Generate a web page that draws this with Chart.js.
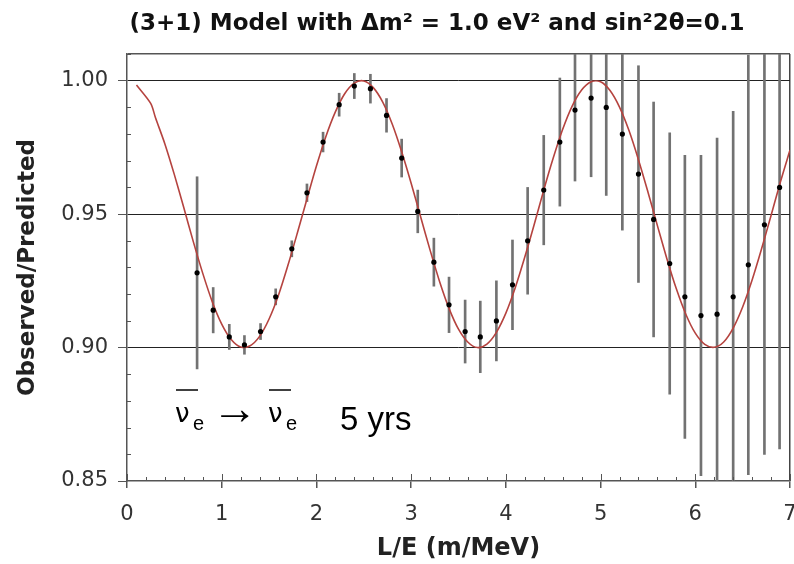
<!DOCTYPE html>
<html>
<head>
<meta charset="utf-8">
<script src="https://cdn.jsdelivr.net/npm/chart.js@4.4.1/dist/chart.umd.min.js"></script>
<style>
  html, body { margin: 0; padding: 0; background: #fff; }
</style>
</head>
<body>
<canvas id="myChart" width="794" height="564"></canvas>
<script>
// measured points (L/E in m/MeV), ratio and half error bar
var lE = [0.74, 0.91, 1.08, 1.24, 1.41, 1.57, 1.74, 1.90, 2.07, 2.24,
  2.40, 2.57, 2.74, 2.90, 3.07, 3.24, 3.40, 3.57, 3.73, 3.90,
  4.07, 4.23, 4.40, 4.57, 4.73, 4.90, 5.06, 5.23, 5.40, 5.56,
  5.73, 5.89, 6.06, 6.23, 6.40, 6.56, 6.73, 6.89];
var ratio = [0.928, 0.914, 0.904, 0.901, 0.906, 0.919, 0.937, 0.958, 0.977, 0.991,
  0.998, 0.997, 0.987, 0.971, 0.951, 0.932, 0.916, 0.906, 0.904, 0.910,
  0.9235, 0.940, 0.959, 0.977, 0.989, 0.9935, 0.990, 0.980, 0.965, 0.948,
  0.9315, 0.919, 0.912, 0.9125, 0.919, 0.931, 0.946, 0.960];
var err = [0.036, 0.0085, 0.0047, 0.0035, 0.003, 0.003, 0.003, 0.0033, 0.0037, 0.0043,
  0.0047, 0.0054, 0.0063, 0.0071, 0.008, 0.009, 0.0104, 0.0118, 0.0134, 0.015,
  0.0168, 0.020, 0.0205, 0.024, 0.0266, 0.0295, 0.033, 0.036, 0.0406, 0.044,
  0.049, 0.053, 0.060, 0.066, 0.0695, 0.0786, 0.086, 0.098];

// model curve
var curveX = [0.1, 0.25, 0.3, 0.4, 0.5, 0.6, 0.7, 0.8, 0.9, 1.0,
  1.1, 1.2, 1.3, 1.4, 1.5, 1.6, 1.7, 1.8, 1.9, 2.0,
  2.1, 2.2, 2.3, 2.4, 2.5, 2.6, 2.7, 2.8, 2.9, 3.0,
  3.1, 3.2, 3.3, 3.4, 3.5, 3.6, 3.7, 3.8, 3.9, 4.0,
  4.1, 4.2, 4.3, 4.4, 4.5, 4.6, 4.7, 4.8, 4.9, 5.0,
  5.1, 5.2, 5.3, 5.4, 5.5, 5.6, 5.7, 5.8, 5.9, 6.0,
  6.1, 6.2, 6.3, 6.4, 6.5, 6.6, 6.7, 6.8, 6.9, 7.0];
var curveY = [0.9984, 0.9915, 0.9862, 0.9763, 0.9648, 0.9524, 0.9397, 0.9278, 0.9172, 0.9088,
  0.9030, 0.9002, 0.9007, 0.9042, 0.9107, 0.9197, 0.9309, 0.9431, 0.9557, 0.9680,
  0.9791, 0.9883, 0.9952, 0.9991, 0.9999, 0.9974, 0.9920, 0.9838, 0.9734, 0.9616,
  0.9490, 0.9365, 0.9248, 0.9147, 0.9069, 0.9020, 0.9000, 0.9013, 0.9057, 0.9129,
  0.9225, 0.9339, 0.9462, 0.9590, 0.9710, 0.9818, 0.9905, 0.9965, 0.9996, 0.9996,
  0.9963, 0.9901, 0.9813, 0.9704, 0.9583, 0.9457, 0.9333, 0.9220, 0.9125, 0.9054,
  0.9012, 0.9001, 0.9021, 0.9073, 0.9152, 0.9253, 0.9370, 0.9495, 0.9622, 0.9740];

var yLines = [0.90, 0.95, 1.00, 1.01];
var titleText = "(3+1) Model with \u0394m\u00b2 = 1.0 eV\u00b2 and sin\u00b22\u03b8=0.1";

function near(a, b) { return Math.abs(a - b) < 1e-6; }
function isWhole(v) { return near(v, Math.round(v)); }
function isFive(v) { return near(v * 20, Math.round(v * 20)); }

var dots = lE.map(function (x, i) { return { x: x, y: ratio[i] }; });
var bars = lE.map(function (x, i) { return { x: x, y: [ratio[i] - err[i], ratio[i] + err[i]] }; });
var curve = curveX.map(function (x, i) { return { x: x, y: curveY[i] }; });

var extras = {
  id: "extras",
  afterDraw: function (chart) {
    var ctx = chart.ctx;
    var xs = chart.scales.x, ys = chart.scales.y;
    var a = chart.chartArea;
    ctx.save();
    // inner minor ticks
    ctx.strokeStyle = "#555";
    ctx.lineWidth = 1;
    xs.ticks.forEach(function (t) {
      var px = Math.round(xs.getPixelForValue(t.value)) + 0.5;
      var len = isWhole(t.value) ? 7 : 4;
      ctx.beginPath();
      ctx.moveTo(px, a.bottom);
      ctx.lineTo(px, a.bottom - len);
      ctx.stroke();
    });
    ys.ticks.forEach(function (t) {
      var py = Math.round(ys.getPixelForValue(t.value)) + 0.5;
      var len = isFive(t.value) ? 0 : 4;
      ctx.beginPath();
      ctx.moveTo(a.left, py);
      ctx.lineTo(a.left + len, py);
      ctx.stroke();
    });

    // title
    ctx.fillStyle = "#111";
    ctx.font = "bold 23px 'DejaVu Sans'";
    ctx.textAlign = "center";
    ctx.textBaseline = "alphabetic";
    ctx.fillText(titleText, 437, 30);

    // nu_e bar -> nu_e bar   5 yrs
    ctx.textAlign = "left";
    ctx.fillStyle = "#000";
    ctx.strokeStyle = "#000";
    ctx.lineWidth = 1.5;
    [175, 268].forEach(function (x0) {
      ctx.font = "26px 'DejaVu Sans'";
      ctx.fillText("\u03bd", x0, 422);
      ctx.font = "20px 'Liberation Sans'";
      ctx.fillText("e", x0 + 18, 430);
      ctx.beginPath();
      ctx.moveTo(x0 + 1, 390);
      ctx.lineTo(x0 + 23, 390);
      ctx.stroke();
    });
    ctx.font = "46px 'Liberation Serif'";
    ctx.fillText("\u2192", 212, 424);
    ctx.font = "33px 'Liberation Sans'";
    ctx.fillText("5 yrs", 340, 430);
    ctx.restore();
  }
};

new Chart("myChart", {
  type: "scatter",
  data: {
    datasets: [
      {
        type: "scatter",
        data: dots,
        pointRadius: 2.6,
        pointBackgroundColor: "#000",
        pointBorderWidth: 0,
        order: 0,
      },
      {
        type: "line",
        data: curve,
        borderColor: "#b5433f",
        borderWidth: 1.6,
        pointRadius: 0,
        tension: 0.3,
        fill: false,
        order: 1,
      },
      {
        type: "bar",
        data: bars,
        backgroundColor: "#727272",
        borderWidth: 0,
        barThickness: 2,
        clip: 0,
        order: 2,
      },
    ],
  },
  options: {
    responsive: false,
    animation: false,
    events: [],
    layout: { padding: { top: 54, right: 3, left: 0, bottom: 0 } },
    plugins: {
      legend: { display: false },
      tooltip: { enabled: false },
    },
    font: { family: "'DejaVu Sans', Verdana, sans-serif" },
    scales: {
      x: {
        type: "linear",
        min: 0,
        max: 7,
        offset: false,
        ticks: {
          stepSize: 0.2,
          autoSkip: false,
          maxRotation: 0,
          padding: 14,
          color: "#333",
          font: { family: "'DejaVu Sans'", size: 21 },
          callback: function (v) { return isWhole(v) ? String(Math.round(v)) : ""; },
        },
        grid: {
          offset: false,
          lineWidth: 1.5,
          color: function (c) { return c.tick && near(c.tick.value, 7) ? "#444" : "rgba(0,0,0,0)"; },
          tickColor: function (c) { return c.tick && isWhole(c.tick.value) ? "#555" : "rgba(0,0,0,0)"; },
          tickLength: 7,
        },
        border: { color: "#555", width: 1.5 },
        title: {
          display: true,
          text: "L/E (m/MeV)",
          color: "#222",
          font: { family: "'DejaVu Sans'", size: 24, weight: "bold" },
          padding: { top: 0, bottom: 1 },
        },
        afterFit: function (s) { s.height = 83; s.paddingRight = 0; s.paddingLeft = 0; },
      },
      y: {
        type: "linear",
        min: 0.85,
        max: 1.01,
        ticks: {
          stepSize: 0.01,
          autoSkip: false,
          padding: 10,
          color: "#333",
          font: { family: "'DejaVu Sans'", size: 21 },
          callback: function (v) { return isFive(v) && v < 1.005 ? v.toFixed(2) : ""; },
        },
        grid: {
          color: function (c) {
            if (!c.tick) return "rgba(0,0,0,0)";
            var v = c.tick.value;
            return yLines.some(function (g) { return near(g, v); }) ? (near(v, 1.01) ? "#555" : "#222") : "rgba(0,0,0,0)";
          },
          lineWidth: function (c) { return c.tick && near(c.tick.value, 1.01) ? 1.5 : 1; },
          tickColor: function (c) { return c.tick && isFive(c.tick.value) && c.tick.value < 1.005 ? "#555" : "rgba(0,0,0,0)"; },
          tickLength: 9,
        },
        border: { color: "#555", width: 1.5 },
        title: {
          display: true,
          text: "Observed/Predicted",
          color: "#222",
          font: { family: "'DejaVu Sans'", size: 23, weight: "bold" },
          padding: { top: 14, bottom: 0 },
        },
        afterFit: function (s) { s.width = 127; },
      },
    },
  },
  plugins: [extras],
});
</script>
</body>
</html>
